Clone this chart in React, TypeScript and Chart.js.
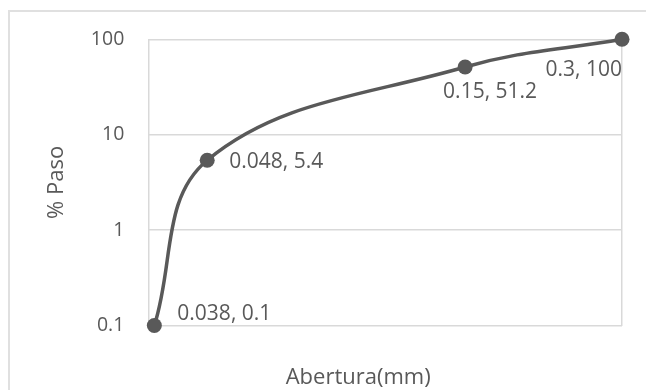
import React, { useEffect, useRef } from "react";
import { Chart, registerables } from "chart.js";

Chart.register(...registerables);

const aberturas = [0.038, 0.048, 0.15, 0.3];
const pasos = [0.1, 5.4, 51.2, 100];
const yTicks = [0.1, 1, 10, 100];
const xRange = [0.037, 0.3];
const pointLabels = ["0.038, 0.1", "0.048, 5.4", "0.15, 51.2", "0.3, 100"];
const yTitle = "% Paso";
const xTitle = "Abertura(mm)";

// label placement styles (offsets from the point, in px)
const labelPlacement = [
  { align: "left", dx: 23, dy: -11 },
  { align: "left", dx: 22, dy: 2 },
  { align: "left", dx: -22, dy: 25 },
  { align: "right", dx: 0, dy: 31 },
];

const GRAY = "#595959";
const GRID = "#d9d9d9";
const FONT = "'Open Sans', 'Noto Sans', sans-serif";

const labelsPlugin = {
  id: "pointLabels",
  afterDatasetsDraw(chart: any) {
    const ctx = chart.ctx;
    const meta = chart.getDatasetMeta(0);
    ctx.save();
    ctx.font = `21px ${FONT}`;
    ctx.fillStyle = GRAY;
    ctx.textBaseline = "middle";
    meta.data.forEach((pt: any, i: number) => {
      const p = labelPlacement[i];
      ctx.textAlign = p.align;
      ctx.fillText(pointLabels[i], pt.x + p.dx, pt.y + p.dy);
    });
    ctx.restore();
  },
};

const xTitlePlugin = {
  id: "xTitle",
  afterDraw(chart: any) {
    const ctx = chart.ctx;
    ctx.save();
    ctx.font = `22px ${FONT}`;
    ctx.fillStyle = GRAY;
    ctx.textAlign = "center";
    ctx.textBaseline = "middle";
    const area = chart.chartArea;
    ctx.fillText(xTitle, (area.left + area.right) / 2 - 27, chart.height - 12.5);
    ctx.restore();
  },
};

export default function App() {
  const ref = useRef<HTMLCanvasElement | null>(null);
  useEffect(() => {
    if (!ref.current) return;
    const chart = new Chart(ref.current, {
      type: "scatter",
      data: {
        datasets: [
          {
            data: aberturas.map((x, i) => ({ x, y: pasos[i] })),
            showLine: true,
            borderColor: GRAY,
            backgroundColor: GRAY,
            borderWidth: 3.5,
            pointRadius: 7.5,
            pointHoverRadius: 7.5,
            pointBackgroundColor: GRAY,
            pointBorderWidth: 0,
            tension: 0.38,
            clip: false as any,
          },
        ],
      },
      options: {
        animation: false,
        responsive: false,
        maintainAspectRatio: false,
        layout: { padding: { top: 39.3, right: 24, left: 0, bottom: 0 } },
        plugins: {
          legend: { display: false },
          tooltip: { enabled: false },
          title: { display: false },
        },
        scales: {
          x: {
            type: "logarithmic",
            min: xRange[0],
            max: xRange[1],
            afterBuildTicks(scale: any) {
              scale.ticks = xRange.map((v) => ({ value: v }));
            },
            afterFit(scale: any) {
              scale.height = 64.5;
            },
            ticks: { display: false },
            grid: { color: GRID, lineWidth: 1.5, drawTicks: false },
            border: { display: false },
          },
          y: {
            type: "logarithmic",
            min: yTicks[0],
            max: yTicks[yTicks.length - 1],
            afterBuildTicks(scale: any) {
              scale.ticks = yTicks.map((v) => ({ value: v }));
            },
            afterFit(scale: any) {
              scale.width = 148.3;
            },
            ticks: {
              padding: 24,
              color: GRAY,
              font: { family: FONT, size: 19.5 },
              callback: (v: any) => String(v),
            },
            grid: { color: GRID, lineWidth: 1.5, drawTicks: false },
            border: { display: false },
            title: {
              display: true,
              text: yTitle,
              color: GRAY,
              font: { family: FONT, size: 22 },
              padding: { top: 44, bottom: 0 },
            },
          },
        },
      },
      plugins: [labelsPlugin, xTitlePlugin],
    } as any);
    return () => chart.destroy();
  }, []);

  return (
    <div>
      <div
        style={{
          position: "fixed",
          left: 8,
          top: 10,
          width: 700,
          height: 450,
          borderTop: "2px solid #e0e0e0",
          borderLeft: "2px solid #e0e0e0",
          boxSizing: "border-box",
        }}
      />
      <canvas
        ref={ref}
        width={646}
        height={390}
        style={{ position: "fixed", left: 0, top: 0, width: 646, height: 390 }}
      />
    </div>
  );
}
